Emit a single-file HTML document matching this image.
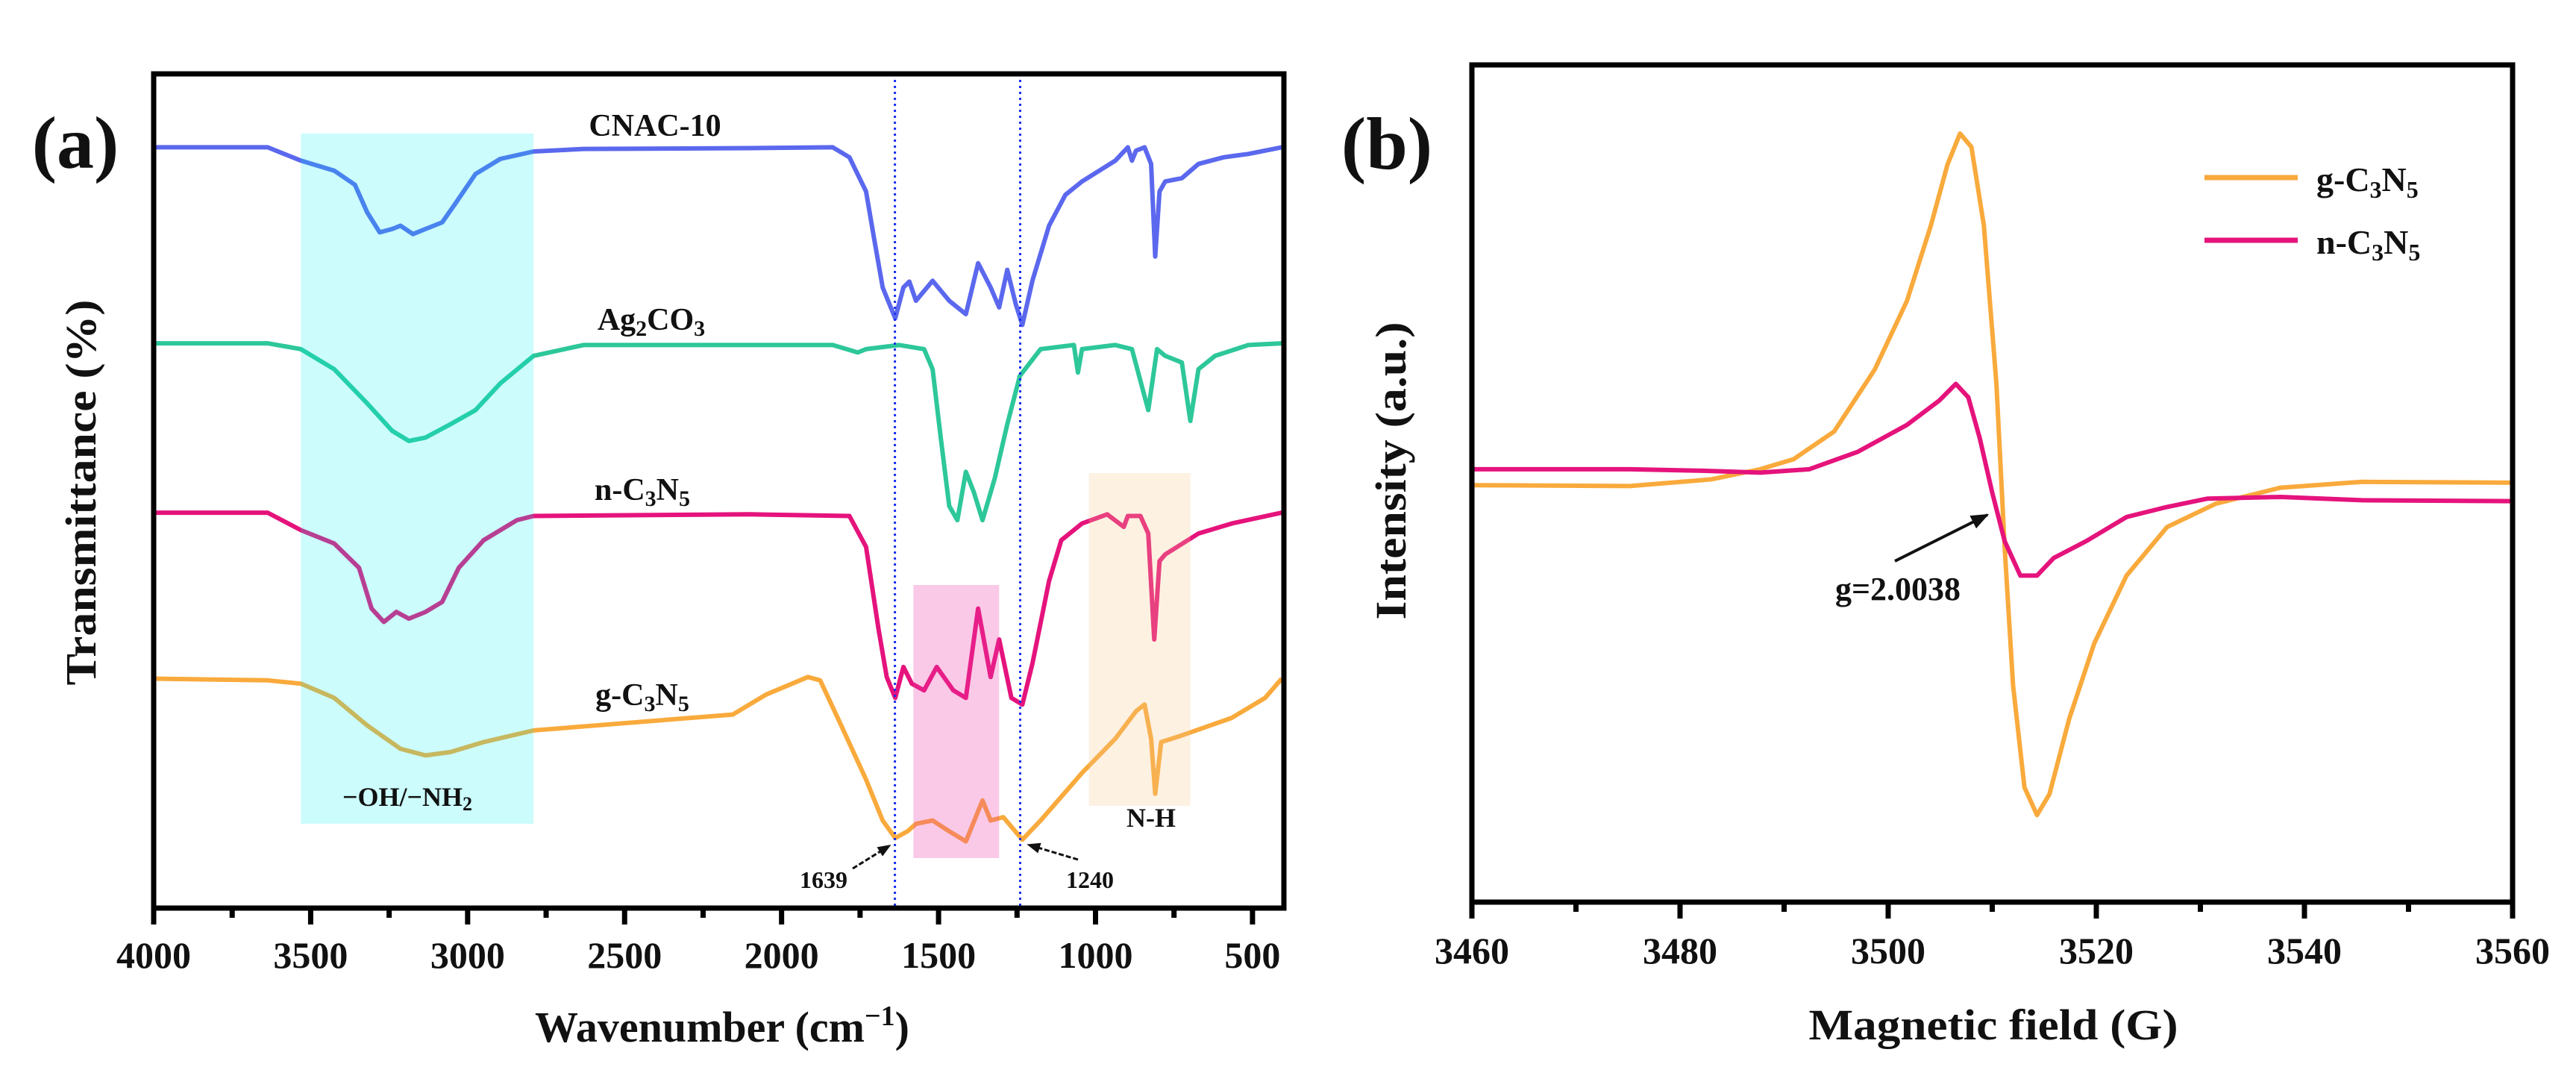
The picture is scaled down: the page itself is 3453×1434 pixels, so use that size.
<!DOCTYPE html>
<html><head><meta charset="utf-8"><style>
html,body{margin:0;padding:0;background:#fff;}
svg{display:block;}
text{font-family:"Liberation Serif",serif;font-weight:bold;fill:#111;}
</style></head><body>
<svg id="fig" width="3453" height="1434" viewBox="0 0 3453 1434" xmlns="http://www.w3.org/2000/svg">
<g id="pa"></g>
<g id="pb"></g>
</svg>
<script>
// ---------- Panel (a) FTIR data ----------
const cnacWn=[4000,3637,3531,3425,3359,3320,3280,3240,3214,3174,3134,3081,3042,2975,2896,2790,2631,2102,1837,1784,1731,1705,1678,1638,1612,1593,1572,1519,1466,1413,1374,1334,1307,1281,1254,1233,1201,1148,1096,1043,937,897,884,871,844,823,810,796,778,725,672,592,513,407];
const cnacT=[91.2,91.2,89.6,88.4,86.7,83.4,81.0,81.4,81.8,80.8,81.4,82.2,84.3,88.0,89.8,90.7,91.0,91.1,91.2,90.0,85.9,80.2,74.4,70.7,74.4,75.1,72.8,75.2,72.8,71.2,77.3,74.4,72.0,76.5,72.4,69.9,75.2,81.8,85.5,87.1,89.6,91.2,89.6,90.8,91.2,89.2,78.1,85.9,87.1,87.5,89.2,90.0,90.4,91.2];
const agWn=[4000,3637,3531,3425,3320,3240,3187,3134,3055,2975,2896,2790,2631,1837,1757,1731,1625,1546,1519,1493,1466,1440,1413,1387,1360,1321,1281,1241,1175,1069,1056,1043,937,884,832,804,778,725,698,672,619,513,407];
const agT=[67.7,67.7,67.0,64.6,60.5,57.2,56.0,56.4,58.0,59.7,62.9,66.2,67.5,67.5,66.6,67.0,67.5,67.0,64.6,56.4,48.2,46.5,52.3,49.8,46.5,51.5,58.0,63.8,67.0,67.5,64.2,67.0,67.5,67.0,59.7,67.0,66.2,65.4,58.4,64.6,66.2,67.5,67.7];
const nWn=[4000,3637,3531,3425,3346,3306,3267,3227,3187,3134,3081,3028,2949,2843,2790,2102,1784,1731,1691,1665,1638,1612,1585,1546,1506,1453,1413,1374,1334,1307,1268,1233,1201,1148,1109,1043,963,910,897,857,832,813,796,778,672,566,407];
const nT=[47.4,47.4,45.3,43.7,40.8,35.9,34.3,35.5,34.7,35.5,36.7,40.8,44.1,46.5,47.0,47.2,47.0,43.3,33.4,27.7,25.2,28.9,26.9,26.1,28.9,26.1,25.2,35.9,27.7,32.2,25.2,24.4,29.3,39.2,44.1,46.1,47.2,45.7,47.0,47.0,44.9,32.2,41.6,42.4,44.9,46.1,47.4];
const gWn=[4000,3637,3531,3425,3320,3214,3134,3055,2949,2790,2155,2049,1916,1877,1810,1731,1678,1638,1599,1572,1519,1466,1413,1360,1334,1294,1233,1175,1043,937,871,844,823,810,791,725,566,460,407];
const gT=[27.5,27.3,26.9,25.2,21.9,19.1,18.3,18.7,19.9,21.3,23.2,25.6,27.7,27.3,21.9,15.4,10.5,8.4,9.2,10.1,10.5,9.2,8.0,12.9,10.5,10.9,8.2,10.5,16.2,20.3,23.6,24.4,20.3,13.7,19.9,20.7,22.8,25.2,27.5];
const aXTicks=[4000,3500,3000,2500,2000,1500,1000,500];
const aXTickLabels=["4000","3500","3000","2500","2000","1500","1000","500"];
const markLines=[1639,1240];
const markLabels=["1639","1240"];

// ---------- Panel (b) EPR data ----------
const gField=[3460,3475.2,3483.0,3487.7,3490.9,3494.8,3498.7,3501.8,3504.1,3505.7,3506.9,3508.0,3509.2,3510.4,3511.2,3512.0,3513.1,3514.3,3515.5,3517.4,3519.8,3522.9,3526.8,3531.5,3537.7,3545.5,3560];
const gInt=[49.8,49.7,50.5,51.7,52.9,56.2,63.6,71.8,80.8,88.1,91.8,90.2,80.8,61.9,42.3,25.9,13.7,10.4,12.9,21.9,30.9,39.0,44.8,47.6,49.5,50.2,50.1];
const nField=[3460,3475.2,3483.0,3487.7,3492.4,3497.1,3501.8,3504.9,3506.5,3507.7,3508.8,3510.0,3511.2,3512.7,3514.3,3515.9,3519.0,3522.9,3526.8,3530.7,3537.7,3545.5,3560];
const nInt=[51.7,51.7,51.5,51.3,51.7,53.8,57.0,59.9,61.9,60.3,55.4,48.9,43.1,39.0,39.0,41.1,43.1,46.0,47.2,48.2,48.4,48.0,47.9];
const bXTicks=[3460,3480,3500,3520,3540,3560];
const bXTickLabels=["3460","3480","3500","3520","3540","3560"];

const NS="http://www.w3.org/2000/svg";
function mk(tag,attrs,parent){const e=document.createElementNS(NS,tag);for(const k in attrs)e.setAttribute(k,attrs[k]);parent.appendChild(e);return e;}

// ===== Panel A =====
const A={l:206,r:1721,t:99,b:1217};
const ax=w=>A.l+(4000-w)*(A.r-A.l)/3600;
const ay=v=>A.b-v*(A.b-A.t)/100;
const pa=document.getElementById('pa');
function curve(parent,xs,ys,fx,fy,color,name,w){
  let d='';for(let i=0;i<xs.length;i++)d+=(i?'L':'M')+fx(xs[i]).toFixed(1)+','+fy(ys[i]).toFixed(1);
  const p=mk('path',{d:d,fill:'none',stroke:color,'stroke-width':w,'stroke-linejoin':'round'},parent);
  
  
  return p;
}
curve(pa,cnacWn,cnacT,ax,ay,'#5b68ee','cnac-10-curve',6);
curve(pa,agWn,agT,ax,ay,'#2dc79a','ag2co3-curve',6);
curve(pa,nWn,nT,ax,ay,'#e5137c','n-c3n5-curve',6);
curve(pa,gWn,gT,ax,ay,'#f9aa3c','g-c3n5-curve',6);
// shaded regions
function rect(parent,x1,x2,y1,y2,fill,name){const r=mk('rect',{x:Math.min(x1,x2),y:y1,width:Math.abs(x2-x1),height:y2-y1,fill:fill},parent);
 
 }
rect(pa,ax(3531),ax(2790),179,1104,'rgba(0,240,240,0.2)','oh-nh2-region');
rect(pa,ax(1580),ax(1307),784,1150,'rgba(236,60,170,0.28)','pink-region');
rect(pa,ax(1021),ax(698),634,1080,'rgba(248,200,140,0.25)','n-h-region');
markLines.forEach((m,i)=>{const l=mk('line',{x1:ax(m),x2:ax(m),y1:A.t,y2:A.b,stroke:'#1a2ef0','stroke-width':3,'stroke-dasharray':'3,5'},pa);
 
 });
// frame
mk('rect',{x:A.l,y:A.t,width:A.r-A.l,height:A.b-A.t,fill:'none',stroke:'#000','stroke-width':7,},pa);
for(let w=4000;w>=500;w-=250){const maj=w%500===0;const t=mk('line',{x1:ax(w),x2:ax(w),y1:A.b,y2:A.b+(maj?22:13),stroke:'#000','stroke-width':7},pa);
 
 }
aXTicks.forEach((w,i)=>{const t=mk('text',{x:ax(w),y:1297,'font-size':50,'text-anchor':'middle'},pa);t.textContent=aXTickLabels[i];
 
 });
</script>
<script>
const pa2=document.getElementById('pa');
function txt(parent,x,y,s,size,name,extra){const t=document.createElementNS(NS,'text');t.setAttribute('x',x);t.setAttribute('y',y);t.setAttribute('font-size',size);
 for(const k in (extra||{}))t.setAttribute(k,extra[k]);t.innerHTML=s;parent.appendChild(t);
 
 return t;}
txt(pa2,101,225,'(a)',100,'panel-a-label',{'text-anchor':'middle'});
txt(pa2,878,182,'CNAC-10',42,'label-cnac-10',{'text-anchor':'middle'});
txt(pa2,873,442,'Ag<tspan font-size="30" dy="8">2</tspan><tspan dy="-8">CO</tspan><tspan font-size="30" dy="8">3</tspan>',42,'label-ag2co3',{'text-anchor':'middle'});
txt(pa2,861,670,'n-C<tspan font-size="30" dy="8">3</tspan><tspan dy="-8">N</tspan><tspan font-size="30" dy="8">5</tspan>',42,'label-n-c3n5',{'text-anchor':'middle'});
txt(pa2,861,945,'g-C<tspan font-size="30" dy="8">3</tspan><tspan dy="-8">N</tspan><tspan font-size="30" dy="8">5</tspan>',42,'label-g-c3n5',{'text-anchor':'middle'});
txt(pa2,546,1080,'−OH/−NH<tspan font-size="26" dy="6">2</tspan>',36,'label-oh-nh2',{'text-anchor':'middle'});
txt(pa2,1543,1108,'N-H',36,'label-n-h',{'text-anchor':'middle'});
txt(pa2,1104,1190,'1639',32,'label-1639',{'text-anchor':'middle'});
txt(pa2,1461,1190,'1240',32,'label-1240',{'text-anchor':'middle'});
txt(pa2,968,1396,'Wavenumber (cm<tspan font-size="38" dy="-22">−1</tspan><tspan dy="22">)</tspan>',58,'x-axis-title-a',{'text-anchor':'middle'});
txt(pa2,0,0,'Transmittance (%)',58,'y-axis-title-a',{'text-anchor':'middle','transform':'translate(128,660) rotate(-90)','textLength':517,'lengthAdjust':'spacingAndGlyphs'});
mk('defs',{},document.getElementById('fig')).innerHTML='<marker id="ah" viewBox="0 0 10 10" refX="9" refY="5" markerWidth="6" markerHeight="6" orient="auto"><path d="M0,1 L10,5 L0,9 z" fill="#111"/></marker>';
mk('line',{x1:1143,y1:1164,x2:1193,y2:1133,stroke:'#111','stroke-width':3,'stroke-dasharray':'7,3','marker-end':'url(#ah)',},pa2);
mk('line',{x1:1445,y1:1152,x2:1378,y2:1132,stroke:'#111','stroke-width':3,'stroke-dasharray':'7,3','marker-end':'url(#ah)',},pa2);

// ===== Panel B =====
const B={l:1973,r:3368,t:87,b:1209};
const bx=f=>B.l+(f-3460)*(B.r-B.l)/100;
const by=v=>B.b-v*(B.b-B.t)/100;
const pb=document.getElementById('pb');
curve(pb,gField,gInt,bx,by,'#f9aa3c','g-c3n5-epr-curve',6);
curve(pb,nField,nInt,bx,by,'#e5137c','n-c3n5-epr-curve',6);
mk('rect',{x:B.l,y:B.t,width:B.r-B.l,height:B.b-B.t,fill:'none',stroke:'#000','stroke-width':7,},pb);
for(let f=3460;f<=3560;f+=5){const maj=f%20===0, mid=f%10===0;if(!maj&&!mid)continue;const t=mk('line',{x1:bx(f),x2:bx(f),y1:B.b,y2:B.b+(maj?22:13),stroke:'#000','stroke-width':7},pb);
 
 }
bXTicks.forEach((f,i)=>{const t=mk('text',{x:bx(f),y:1291,'font-size':50,'text-anchor':'middle'},pb);t.textContent=bXTickLabels[i];
 
 });
txt(pb,1859,226,'(b)',100,'panel-b-label',{'text-anchor':'middle'});
txt(pb,2672,1393,'Magnetic field (G)',58,'x-axis-title-b',{'text-anchor':'middle','textLength':495,'lengthAdjust':'spacingAndGlyphs'});
txt(pb,0,0,'Intensity (a.u.)',58,'y-axis-title-b',{'text-anchor':'middle','transform':'translate(1884,631) rotate(-90)','textLength':399,'lengthAdjust':'spacingAndGlyphs'});
txt(pb,2544,804,'g=2.0038',44,'g-value-label',{'text-anchor':'middle'});
mk('line',{x1:2540,y1:752,x2:2664,y2:690,stroke:'#111','stroke-width':4,'marker-end':'url(#ah)',},pb);
// legend
const lg=mk('g',{},pb);
mk('line',{x1:2955,x2:3080,y1:238,y2:238,stroke:'#f9aa3c','stroke-width':7,},lg);
mk('line',{x1:2955,x2:3080,y1:322,y2:322,stroke:'#e5137c','stroke-width':7,},lg);
txt(lg,3105,256,'g-C<tspan font-size="32" dy="9">3</tspan><tspan dy="-9">N</tspan><tspan font-size="32" dy="9">5</tspan>',46,'legend-entry-g-c3n5');
txt(lg,3105,340,'n-C<tspan font-size="32" dy="9">3</tspan><tspan dy="-9">N</tspan><tspan font-size="32" dy="9">5</tspan>',46,'legend-entry-n-c3n5');
</script>
</body></html>
